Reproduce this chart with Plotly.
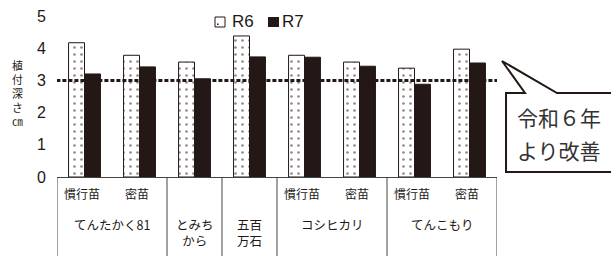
import plotly.graph_objects as go

# ---- data ----
sub_labels = ["慣行苗", "密苗", "", "", "慣行苗", "密苗", "慣行苗", "密苗"]
group_labels = ["てんたかく81", "とみち<br>から", "五百<br>万石", "コシヒカリ", "てんこもり"]
group_sizes = [2, 1, 1, 2, 2]
r6 = [4.17, 3.78, 3.57, 4.38, 3.78, 3.57, 3.38, 3.97]
r7 = [3.20, 3.42, 3.05, 3.73, 3.72, 3.44, 2.88, 3.54]
series_names = ["R6", "R7"]
target = 3.0
y_ticks = [0, 1, 2, 3, 4, 5]
y_title_chars = ["植", "付", "深", "さ", "㎝"]
callout_lines = ["令和６年", "より改善"]

DARK = "#231815"
JP = "Noto Sans CJK JP"
x = list(range(len(r6)))

fig = go.Figure()
fig.add_trace(go.Bar(
    x=x, y=r6, name=series_names[0],
    marker=dict(color="white", line=dict(color=DARK, width=1),
                pattern=dict(shape=".", fgcolor=DARK, bgcolor="white", size=7, solidity=0.12)),
))
fig.add_trace(go.Bar(
    x=x, y=r7, name=series_names[1],
    marker=dict(color=DARK, line=dict(color=DARK, width=1)),
))

shapes = []
annotations = []

def px(xp):
    return (xp - 57) / 440
def py(yp):
    return (177 - yp) / 161

# dotted reference line
shapes.append(dict(type="line", xref="x", yref="y", x0=-0.62, x1=7.56, y0=target, y1=target,
                   line=dict(color=DARK, width=3, dash="4px,2px")))

# table dividers
b = -0.5
bounds = [b]
for s in group_sizes:
    b += s
    bounds.append(b)
for bx in bounds:
    shapes.append(dict(type="line", xref="x", yref="paper", x0=bx, x1=bx, y0=0, y1=-0.55,
                       line=dict(color="#444", width=1)))

# sub labels
for i, lab in enumerate(sub_labels):
    if lab:
        annotations.append(dict(x=i - 0.05, y=py(193), xref="x", yref="paper", text=lab, showarrow=False,
                                font=dict(family=JP, size=12, color=DARK), yanchor="middle"))
# group labels
start = 0
for lab, s in zip(group_labels, group_sizes):
    cx = start + (s - 1) / 2
    annotations.append(dict(x=cx, y=py(213), xref="x", yref="paper", text=lab, showarrow=False,
                            font=dict(family=JP, size=12.5, color=DARK), yanchor="top"))
    start += s

# y-axis title (stacked)
annotations.append(dict(x=px(17), y=py(93), xref="paper", yref="paper",
                        text="<br>".join(y_title_chars), showarrow=False,
                        font=dict(family=JP, size=10.8, color=DARK),
                        xanchor="center", yanchor="middle"))

# manual legend
shapes.append(dict(type="rect", xref="paper", yref="paper", x0=px(215), x1=px(225), y0=py(27), y1=py(17),
                   line=dict(color=DARK, width=1), fillcolor="white"))
shapes.append(dict(type="rect", xref="paper", yref="paper", x0=px(217), x1=px(218.5), y0=py(25), y1=py(23.5),
                   line=dict(width=0), fillcolor=DARK))
shapes.append(dict(type="rect", xref="paper", yref="paper", x0=px(268), x1=px(279), y0=py(27), y1=py(17),
                   line=dict(width=0), fillcolor=DARK))
annotations.append(dict(x=px(230), y=py(22), xref="paper", yref="paper", text=series_names[0],
                        showarrow=False, xanchor="left", yanchor="middle",
                        font=dict(family="Liberation Sans", size=17, color=DARK)))
annotations.append(dict(x=px(280), y=py(22), xref="paper", yref="paper", text=series_names[1],
                        showarrow=False, xanchor="left", yanchor="middle",
                        font=dict(family="Liberation Sans", size=17, color=DARK)))

# callout bubble
pts = [(506, 93), (525, 93), (502, 61), (557, 93), (625, 93), (625, 172), (506, 172)]
path = "M " + " L ".join(f"{px(a):.4f},{py(c):.4f}" for a, c in pts) + " Z"
shapes.append(dict(type="path", xref="paper", yref="paper", path=path,
                   line=dict(color=DARK, width=2), fillcolor="white"))
for k, t in enumerate(callout_lines):
    annotations.append(dict(x=px(515), y=py(117 + 33 * k), xref="paper", yref="paper",
                            text=t, showarrow=False, xanchor="left", yanchor="middle",
                            font=dict(family=JP, size=21, color="#333")))

fig.update_layout(
    width=611, height=256,
    margin=dict(l=57, r=114, t=16, b=79, autoexpand=False),
    plot_bgcolor="white", paper_bgcolor="white",
    barmode="group", bargap=0.42, bargroupgap=0,
    showlegend=False,
    shapes=shapes, annotations=annotations,
)
fig.update_xaxes(range=[-0.5, 7.5], showticklabels=False, showgrid=False, zeroline=False,
                 showline=True, linecolor="#444", linewidth=1, ticks="")
fig.update_yaxes(range=[0, 5], tickvals=y_ticks, showgrid=False, zeroline=False, showline=False,
                 ticks="", ticklabelstandoff=10,
                 tickfont=dict(family="Liberation Sans", size=16, color=DARK))

fig.write_html("out.html", config={"displayModeBar": False},
               post_script="document.body.style.margin='0px';")
